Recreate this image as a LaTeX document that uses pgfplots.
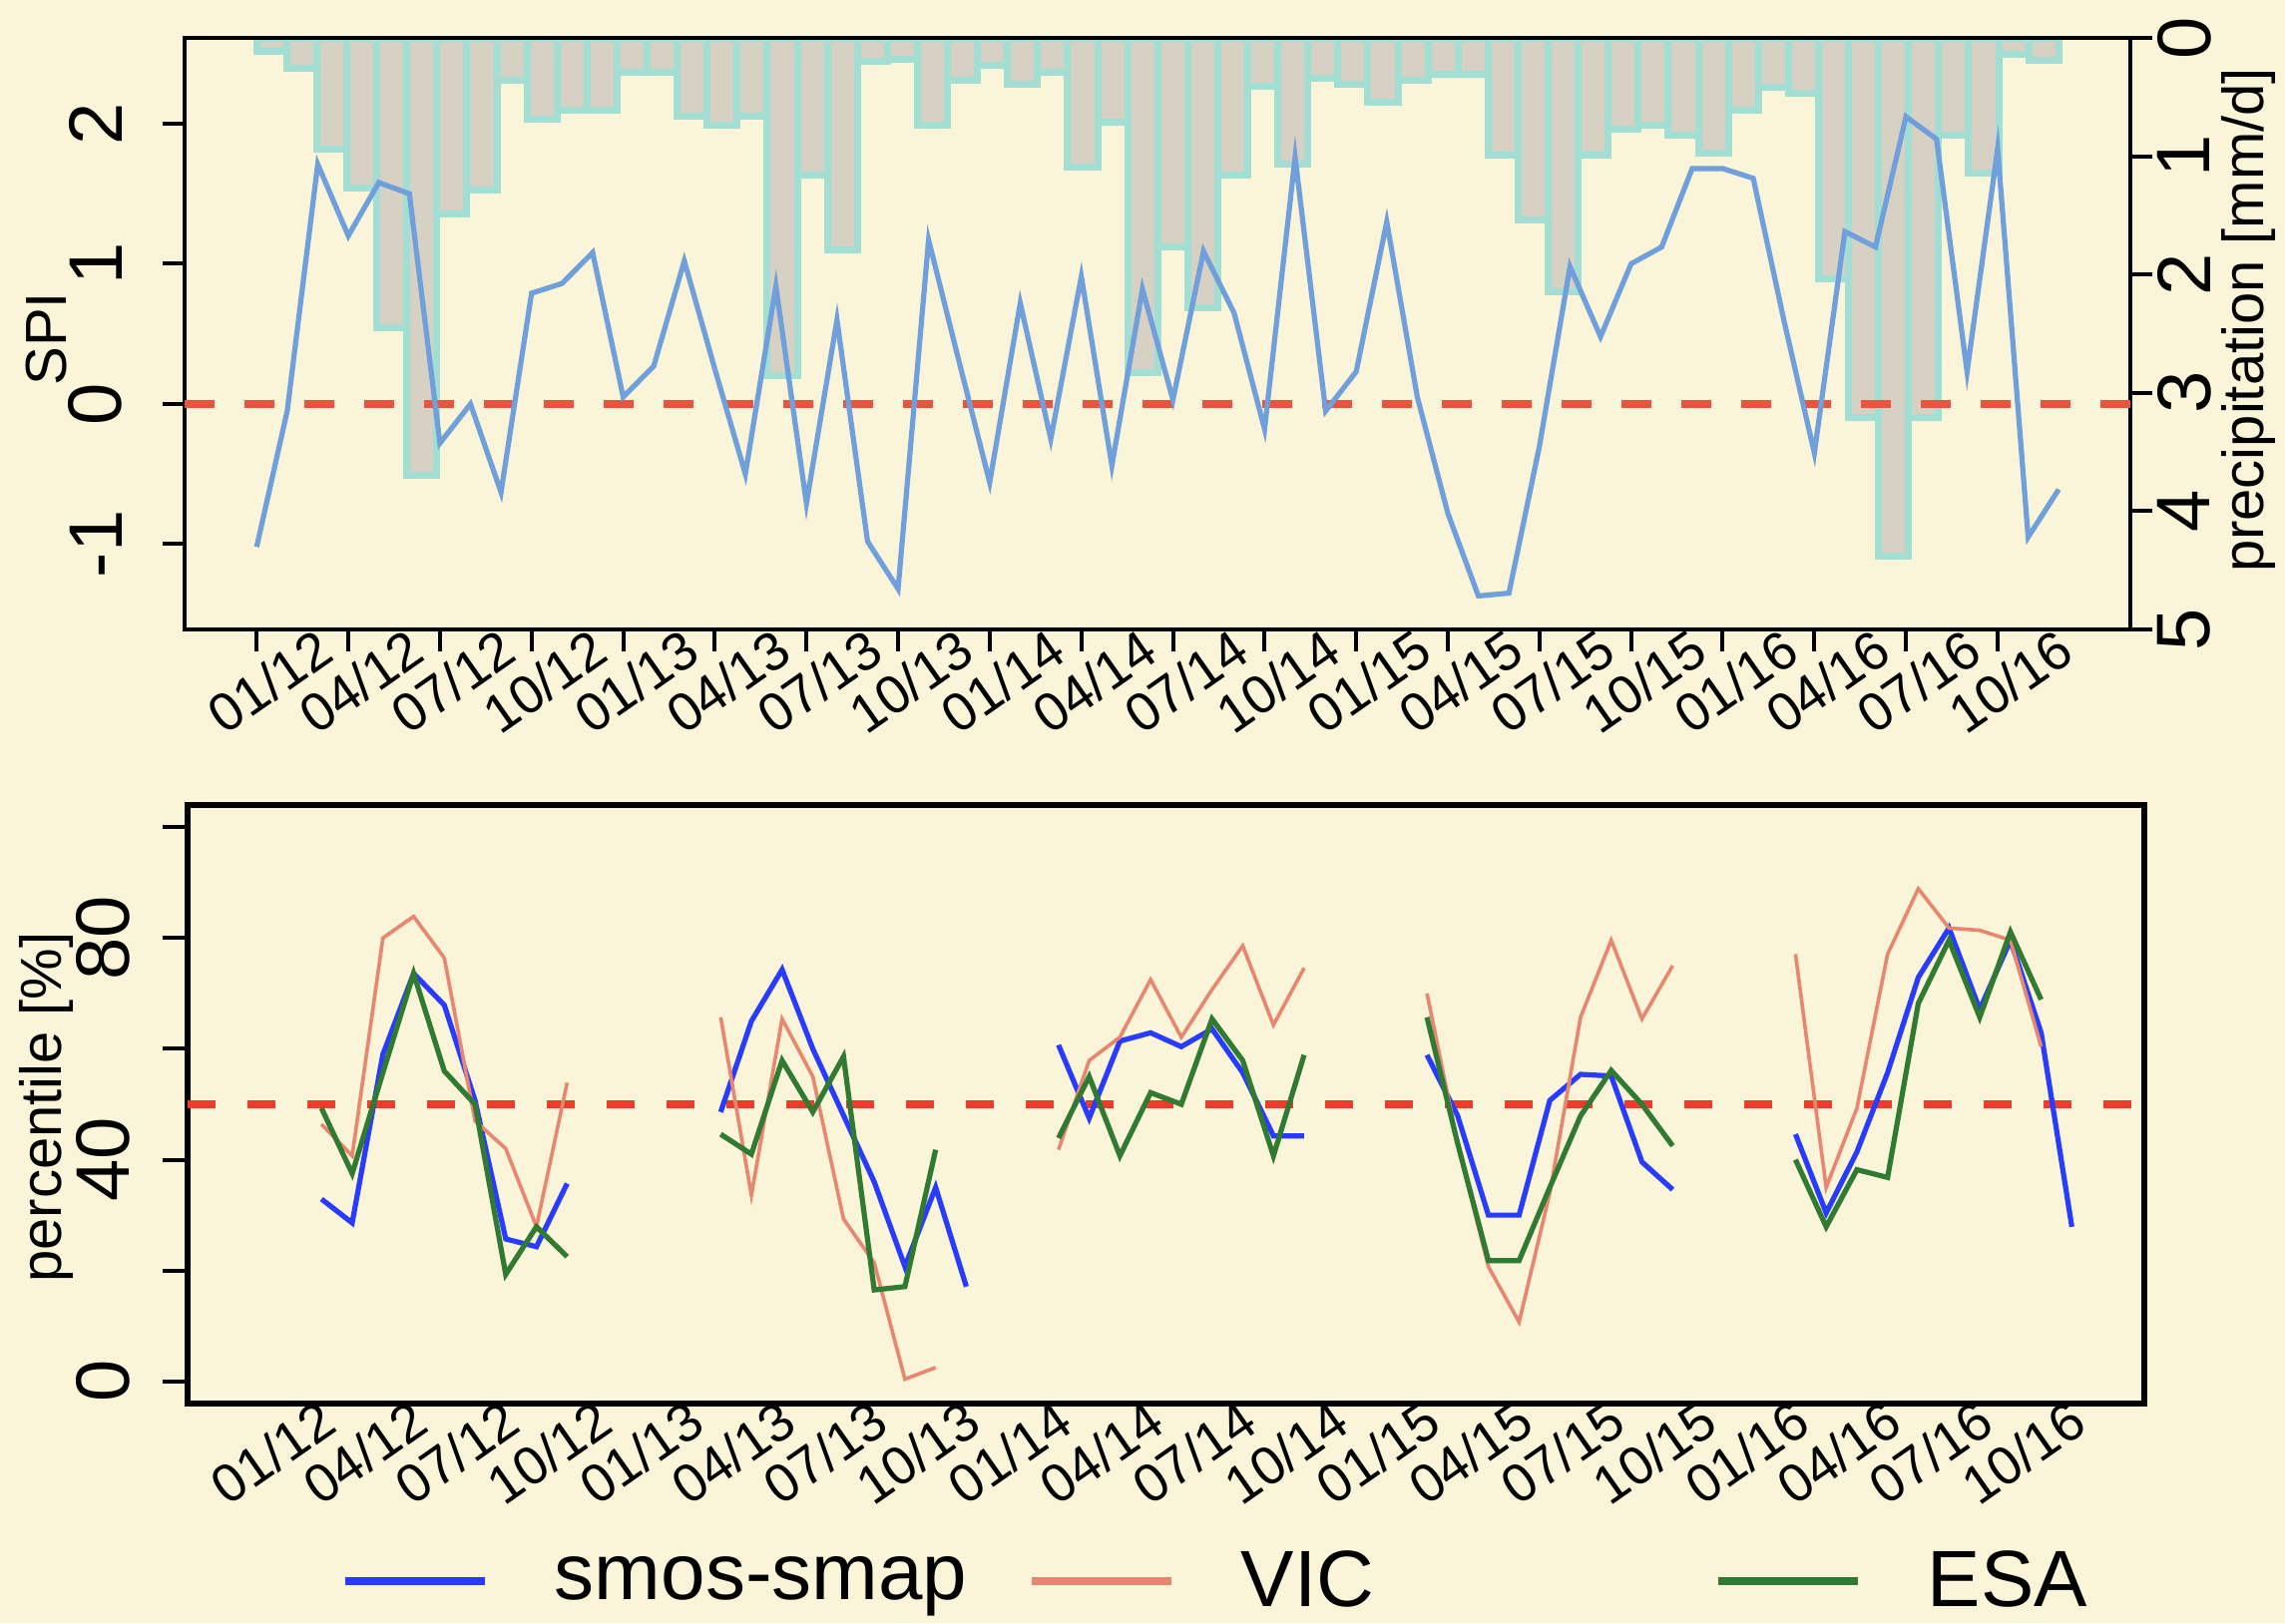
\documentclass[border=0pt]{standalone}
\usepackage{fontspec}
\setmainfont{Liberation Sans}
\usepackage{pgfplots}
\usepackage{pgfplotstable}
\pgfplotsset{compat=1.18}

\definecolor{bg}{RGB}{250,244,216}
\definecolor{spiblue}{RGB}{112,160,220}
\definecolor{bargrey}{RGB}{215,209,195}
\definecolor{barcyan}{RGB}{162,222,212}
\definecolor{dashred}{RGB}{232,84,62}
\definecolor{dashred2}{RGB}{240,58,42}
\definecolor{smos}{RGB}{40,60,255}
\definecolor{vic}{RGB}{232,134,112}
\definecolor{esa}{RGB}{48,122,50}

\pgfplotstableread{
k spi
0 -1.02
1 -0.05
2 1.71
3 1.20
4 1.58
5 1.50
6 -0.28
7 0.00
8 -0.63
9 0.79
10 0.86
11 1.08
12 0.05
13 0.27
14 1.02
15 0.25
16 -0.50
17 0.84
18 -0.71
19 0.60
20 -0.98
21 -1.32
22 1.17
23 0.30
24 -0.56
25 0.72
26 -0.25
27 0.91
28 -0.44
29 0.82
30 0.03
31 1.09
32 0.65
33 -0.18
34 1.76
35 -0.05
36 0.23
37 1.30
38 0.05
39 -0.78
40 -1.37
41 -1.35
42 -0.30
43 0.98
44 0.48
45 1.00
46 1.12
47 1.68
48 1.68
49 1.61
50 0.60
51 -0.35
52 1.23
53 1.12
54 2.05
55 1.89
56 0.23
57 1.82
58 -0.95
59 -0.61
}\spitable

\pgfplotstableread{
x p
0.5 0.11
1.5 0.26
2.5 0.94
3.5 1.27
4.5 2.45
5.5 3.70
6.5 1.49
7.5 1.29
8.5 0.36
9.5 0.69
10.5 0.61
11.5 0.61
12.5 0.29
13.5 0.29
14.5 0.66
15.5 0.74
16.5 0.66
17.5 2.85
18.5 1.16
19.5 1.79
20.5 0.20
21.5 0.18
22.5 0.74
23.5 0.36
24.5 0.23
25.5 0.39
26.5 0.29
27.5 1.09
28.5 0.71
29.5 2.83
30.5 1.77
31.5 2.28
32.5 1.16
33.5 0.41
34.5 1.07
35.5 0.34
36.5 0.39
37.5 0.54
38.5 0.36
39.5 0.31
40.5 0.31
41.5 0.99
42.5 1.54
43.5 2.15
44.5 0.99
45.5 0.77
46.5 0.74
47.5 0.82
48.5 0.97
49.5 0.61
50.5 0.42
51.5 0.47
52.5 2.04
53.5 3.21
54.5 4.38
55.5 3.21
56.5 0.82
57.5 1.14
58.5 0.14
59.5 0.19
}\preciptable

\pgfplotstableread{
k v
2 32.9
3 28.6
4 59
5 73.6
6 67.9
7 50.7
8 25.7
9 24.3
10 35.7
11 nan
15 48.6
16 65
17 74.3
18 60
19 48
20 36
21 20.7
22 35
23 17.1
24 nan
26 60.7
27 47.5
28 61.4
29 62.9
30 60.4
31 63.6
32 55.7
33 44.3
34 44.3
35 nan
38 58.9
39 47.9
40 30
41 30
42 50.7
43 55.4
44 55.1
45 39.6
46 34.6
47 nan
50 44.6
51 30.4
52 41.4
53 55.7
54 72.9
55 81.8
56 67.1
57 79.6
58 62.9
59 27.9
}\smostable

\pgfplotstableread{
k v
2 46.4
3 40.7
4 80
5 83.9
6 76.4
7 47
8 42
9 27.9
10 53.9
11 nan
15 65.7
16 33.6
17 65.4
18 55
19 29.3
20 21.4
21 0.4
22 2.5
23 nan
26 41.8
27 57.9
28 62.1
29 72.5
30 62.1
31 70.7
32 78.6
33 64.3
34 74.6
35 nan
38 70
39 42.9
40 20.7
41 10.7
42 34
43 65.7
44 79.6
45 65.4
46 75
47 nan
50 77.1
51 35
52 49.3
53 77.1
54 88.9
55 81.8
56 81.4
57 79.6
58 60.4
}\victable

\pgfplotstableread{
k v
2 49.3
3 37.5
4 55.7
5 73.6
6 56
7 50
8 19.3
9 27.9
10 22.5
11 nan
15 44.6
16 41
17 57.9
18 48.6
19 58.6
20 16.5
21 17.1
22 41.8
23 nan
26 43.9
27 55
28 40.7
29 52.1
30 50
31 65.4
32 57.9
33 40.7
34 58.9
35 nan
38 65.7
39 42.9
40 21.8
41 21.8
42 35
43 47.9
44 56.1
45 50
46 42.5
47 nan
50 40
51 27.9
52 38.2
53 36.8
54 68.2
55 79.6
56 65.7
57 81.1
58 68.9
}\esatable

\def\datelabels{01/12,04/12,07/12,10/12,01/13,04/13,07/13,10/13,01/14,04/14,07/14,10/14,01/15,04/15,07/15,10/15,01/16,04/16,07/16,10/16}

\begin{document}
\begin{tikzpicture}[x=1pt,y=1pt]
\path[use as bounding box, fill=bg] (0,0) rectangle (572.5,406.75);

% precipitation bars (right axis, reversed)
\begin{axis}[
  at={(46.25pt,249pt)}, anchor=south west, scale only axis,
  width=487.6pt, height=148.25pt,
  xmin=-2.4, xmax=62.4, ymin=0, ymax=5, y dir=reverse,
  axis x line=none, axis y line*=right,
  axis line style={line width=1pt, black},
  ytick={0,1,2,3,4,5}, yticklabels={0,1,2,3,4,5},
  tick align=outside, major tick length=5.5pt,
  tick style={line width=1pt, black},
  yticklabel style={xshift=1pt, rotate=90, anchor=north, inner sep=0pt, font=\fontsize{19}{19}\selectfont},
  ylabel={precipitation [mm/d]},
  ylabel style={at={(axis description cs:1.0605,0.523)}, anchor=center, font=\fontsize{14.5}{14.5}\selectfont},
]
\addplot[ybar, bar width=1, fill=bargrey, draw=barcyan, line width=1.75pt] table[x=x,y=p]{\preciptable};
\end{axis}

% SPI line
\begin{axis}[
  at={(46.25pt,249pt)}, anchor=south west, scale only axis,
  width=487.6pt, height=148.25pt,
  xmin=-2.36, xmax=61.36, ymin=-1.609, ymax=2.612,
  axis line style={line width=1pt, black},
  xtick={0,3,...,57}, xticklabels/.expand once=\datelabels,
  xtick pos=bottom, ytick pos=left,
  ytick={-1,0,1,2}, yticklabels={-1,0,1,2},
  tick align=outside, major tick length=5.5pt,
  tick style={line width=1pt, black},
  xticklabel style={xshift=3.25pt, yshift=-7.5pt, rotate=35, anchor=center, inner sep=0pt, font=\fontsize{13.5}{13.5}\selectfont},
  yticklabel style={xshift=-10pt, rotate=90, anchor=south, inner sep=0pt, font=\fontsize{19}{19}\selectfont},
  ylabel={SPI},
  ylabel style={at={(axis description cs:-0.0708,0.491)}, anchor=center, font=\fontsize{14.5}{14.5}\selectfont},
]
\addplot[dashred, dash pattern=on 7.5pt off 7.5pt, line width=1.8pt] coordinates {(-2.36,0) (61.36,0)};
\addplot[spiblue, line width=1.3pt] table[x=k,y=spi]{\spitable};
\end{axis}

% percentile panel
\begin{axis}[
  at={(47pt,55pt)}, anchor=south west, scale only axis,
  width=490.25pt, height=150pt,
  xmin=-2.36, xmax=61.36, ymin=-4, ymax=104,
  axis line style={line width=1.5pt, black},
  xtick={0,3,...,57}, xticklabels/.expand once=\datelabels,
  xtick pos=bottom, ytick pos=left,
  ytick={0,20,40,60,80,100}, yticklabels={0,,40,,80,},
  tick align=outside, major tick length=6.25pt,
  ytick style={line width=1pt, black},
  xtick style={draw=none},
  xticklabel style={xshift=3.15pt, yshift=-6pt, rotate=35, anchor=center, inner sep=0pt, font=\fontsize{13.5}{13.5}\selectfont},
  yticklabel style={xshift=-8pt, rotate=90, anchor=south, inner sep=0pt, font=\fontsize{19}{19}\selectfont},
  ylabel={percentile [\%]},
  ylabel style={at={(axis description cs:-0.0719,0.495)}, anchor=center, font=\fontsize{14.5}{14.5}\selectfont},
  unbounded coords=jump,
  legend columns=3,
  legend image code/.code={\draw[#1, line width=2pt] (0pt,0pt) -- (35pt,0pt);},
  legend style={at={(axis description cs:0.0785,-0.297)}, anchor=west, draw=none, fill=none,
    inner sep=0pt, outer sep=0pt, nodes={inner sep=0pt},
    font=\fontsize{20}{20}\selectfont,
    /tikz/every odd column/.append style={column sep=16.5pt}},
]
\addplot[dashred2, dash pattern=on 7pt off 8pt, line width=1.8pt, forget plot] coordinates {(-2.36,50) (61.36,50)};
\addplot[smos, line width=1.3pt] table[x=k,y=v]{\smostable};
\addlegendentry{\makebox[118.5pt][l]{smos-smap}}
\addplot[vic, line width=0.9pt] table[x=k,y=v]{\victable};
\addlegendentry{\makebox[118.5pt][l]{VIC}}
\addplot[esa, line width=1.3pt] table[x=k,y=v]{\esatable};
\addlegendentry{ESA}
\end{axis}
\end{tikzpicture}
\end{document}
